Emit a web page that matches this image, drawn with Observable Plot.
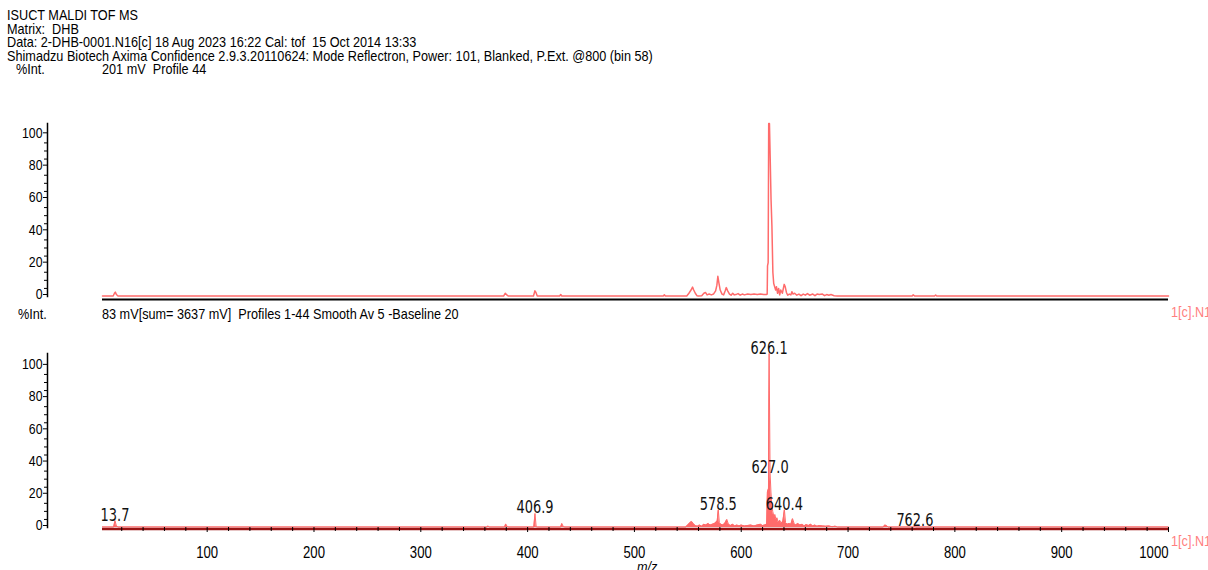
<!DOCTYPE html>
<html><head><meta charset="utf-8">
<script src="https://cdn.jsdelivr.net/npm/d3@7"></script>
<script src="https://cdn.jsdelivr.net/npm/@observablehq/plot@0.6"></script>
<style>
html,body{margin:0;padding:0;background:#fff;overflow:hidden;width:1208px;height:570px}
#root{position:relative;width:1208px;height:570px;overflow:hidden;background:#fff}
.t{position:absolute;font-family:"Liberation Sans",Arial,sans-serif;font-size:15px;line-height:13px;white-space:pre;transform:scaleX(0.845);transform-origin:0 0;color:#000}
.pk{color:#ff7f7f}
.it{font-style:italic}
</style></head>
<body><div id="root"></div>
<script>
// ---------- data ----------
const headerLines = [
  "ISUCT MALDI TOF MS",
  "Matrix:  DHB",
  "Data: 2-DHB-0001.N16[c] 18 Aug 2023 16:22 Cal: tof  15 Oct 2014 13:33",
  "Shimadzu Biotech Axima Confidence 2.9.3.20110624: Mode Reflectron, Power: 101, Blanked, P.Ext. @800 (bin 58)"
];
const yLabelText = "%Int.";
const profileInfo = "201 mV  Profile 44";
const sumInfo = "83 mV[sum= 3637 mV]  Profiles 1-44 Smooth Av 5 -Baseline 20";
const fileTag = "1[c].N16";
const xTitle = "m/z";

const xDomain = [2, 1000];
const xMajorTicks = [100, 200, 300, 400, 500, 600, 700, 800, 900];
const xLastTick = [1000];
const xMinorTicks = [20,40,60,80,120,140,160,180,220,240,260,280,320,340,360,380,420,440,460,480,520,540,560,580,620,640,660,680,720,740,760,780,820,840,860,880,920,940,960,980];
const yMajorTicks = [0, 20, 40, 60, 80, 100];
const yMinorTicks = [5,10,15,25,30,35,45,50,55,65,70,75,85,90,95];

// top panel: single profile
const profileMz  = [2,12,13.2,14,15,16.5,377.5,379,380.5,382,405.5,406.8,407.8,409,430,431,432,527,528,529,549,551,553,554.4,555.5,557,558.5,560,563,565,566.5,568,570,572,574,576,577.2,578.1,579.2,580.3,582,583.5,585,586,587.3,589,590.5,592,593.5,595,597,599,601,603,606,609,612,615,618,621,623.5,624.3,624.6,625.2,625.7,626.4,627.1,627.9,628.7,629.6,630.4,631.3,632.2,633,634,635,636,637,638.5,640.2,641.2,642.3,643.5,645,646.5,647.4,648.5,650,652,654,656,658,660,662,664,667,669,671,673,676,678,680,682,684,687,690,760,761,762.5,781,782,783,1000];
const profileInt = [0.3,0.3,2,2.7,1.2,0.3,0.3,2,1,0.3,0.3,3.5,2.5,0.3,0.3,1.2,0.3,0.3,1,0.3,0.3,2,4,5.8,4,2,0.5,0.3,0.5,2,2.5,1,1.5,1,1.5,3.5,7,12.5,8,4,1.5,1,3.5,5.5,3.5,1.5,0.8,2,1,1.2,1.8,0.8,1.5,1,1.5,1.2,1.5,1.2,1.5,1.2,1.2,1.5,19,21,107,107,86,60,44,15,8,6,4,6,2,5,1,4,2,7.5,6,2.5,0.8,1.5,1,3,1.5,2,0.8,1.5,0.5,1.5,0.8,1.8,0.8,1.5,0.5,1.5,1.2,1.5,0.5,1.2,0.8,1.2,0.5,0.3,0.3,1,0.3,0.3,0.9,0.3,0.3];

// bottom panel: summed, smoothed spectrum
const sumMz  = [2,12.5,13.7,15,16.5,362,363,364,378.5,379.5,381,382.5,405.8,406.9,408,409,431,432,433.5,435,548,550,552,553.5,555,557,559,561,563,565,567,569,571,573,575,577.5,578.5,579.5,581,583,585,586.5,588,590,592,594,596,598,600,603,606,609,612,615,618,620,622,623.8,624.5,625.5,626.1,627.0,627.8,628.6,629.5,630.5,631.5,632.5,633.5,634.5,636,637.5,639,640.4,641.5,643,645,646.5,648,649.5,651,653,655,657,659,661,663,665,667,669,671,673,676,679,682,685,688,690,733,734.5,736,737.5,761.8,762.6,763.4,1000];
const sumInt = [0.3,0.3,4.3,1,0.3,0.3,1,0.3,0.3,2.2,0.5,0.3,0.3,8.7,0.5,0.3,0.3,2.5,0.5,0.3,0.3,1.5,3,3.8,2.5,1.2,0.8,1.5,0.8,2,1.5,2.5,1.5,2,2.5,4,11,3,2,1.5,3,5,2,1.2,2,1,1.5,1,1.5,1,1.2,1.5,1,1.5,2,1.2,1.5,2,22,24,108,34,22,14,10,7,8,5,6,3,4.5,2.5,4,11,3,2,2.5,2,5.5,2.5,1.5,2.5,1.5,2,1,1.8,1.2,2,1,1.5,0.8,1.2,1,0.8,1,0.5,0.8,0.3,0.3,1.5,1.2,0.3,0.3,0.8,0.3,0.3];

// labelled peaks
const peakMz    = [13.7, 406.9, 578.5, 626.1, 627.0, 640.4, 762.6];
const peakInt   = [4.3, 8.7, 11, 108, 34, 11, 0.8];
const peakLabel = ["13.7", "406.9", "578.5", "626.1", "627.0", "640.4", "762.6"];

// ---------- styles ----------
const specColor = "#ff6b6b";
const baseRed = "#9a1414";
const axisFont = "Liberation Sans, Arial, sans-serif";
const peakFont = "DejaVu Sans";

const root = document.getElementById("root");
function addText(str, left, top, cls) {
  const d = document.createElement("div");
  d.className = "t" + (cls ? " " + cls : "");
  d.textContent = str;
  d.style.left = left + "px";
  d.style.top = top + "px";
  root.appendChild(d);
  return d;
}
const headerTops = [8, 21.5, 35, 48.5];
headerLines.forEach((s, i) => addText(s, 7, headerTops[i]));
addText(yLabelText, 16, 62);
addText(profileInfo, 102, 62);
addText(yLabelText, 18, 307);
addText(sumInfo, 102, 307);
addText(fileTag, 1171, 305, "pk");
addText(fileTag, 1171, 534, "pk");
addText(xTitle, 637, 560, "it");

const profile = profileMz.map((mz, i) => ({mz, int: profileInt[i]}));
const summed = sumMz.map((mz, i) => ({mz, int: sumInt[i]}));
const peaks = peakMz.map((mz, i) => ({mz, int: peakInt[i], label: peakLabel[i]}));

const common = {
  width: 1208, marginLeft: 47, marginRight: 40,
  style: {fontFamily: axisFont, fontSize: "15px", color: "#000", background: "transparent", overflow: "visible"}
};

function yAxes() {
  return [
    Plot.axisY({anchor: "left", ticks: yMinorTicks, tickSize: 3, tickFormat: () => "", label: null}),
    Plot.axisY({anchor: "left", ticks: yMajorTicks, tickSize: 4, tickPadding: 1, tickFormat: d => String(d), fontSize: 15, dy: -2, label: null}),
    Plot.frame({anchor: "left", strokeWidth: 1.5})
  ];
}

const topPlot = Plot.plot({
  ...common, height: 225, marginTop: 43, marginBottom: 9,
  x: {domain: xDomain, range: [102, 1168], axis: null},
  y: {domain: [0, 107], axis: null},
  marks: [
    Plot.ruleY([0], {x1: xDomain[0], x2: xDomain[1], stroke: "#000", strokeWidth: 2, dy: 3}),
    Plot.line(profile, {x: "mz", y: "int", stroke: specColor, strokeWidth: 1.5}),
    ...yAxes()
  ]
});

const bottomPlot = Plot.plot({
  ...common, height: 240, marginTop: 23, marginBottom: 43,
  x: {domain: xDomain, range: [102, 1168], axis: null},
  y: {domain: [0, 108], axis: null},
  marks: [
    Plot.areaY(summed, {x: "mz", y: "int", fill: specColor}),
    Plot.line(summed, {x: "mz", y: "int", stroke: specColor, strokeWidth: 1}),
    Plot.ruleY([0], {x1: xDomain[0], x2: xDomain[1], stroke: baseRed, strokeWidth: 2.5, dy: 1.5}),
    Plot.axisX({anchor: "bottom", ticks: xMinorTicks, tickSize: 4, tickFormat: () => "", label: null}),
    Plot.axisX({anchor: "bottom", ticks: xMajorTicks, tickSize: 5, tickPadding: 14, fontSize: 16, tickFormat: d => String(d), label: null}),
    Plot.axisX({anchor: "bottom", ticks: xLastTick, tickSize: 5, tickPadding: 14, fontSize: 16, textAnchor: "end", tickFormat: d => String(d), label: null}),
    ...yAxes(),
    Plot.text(peaks, {x: "mz", y: "int", text: "label", lineAnchor: "bottom", dy: 0, fontSize: 18, fontFamily: peakFont, fill: "#111"})
  ]
});

[[topPlot, 80], [bottomPlot, 330]].forEach(([svg, top]) => {
  svg.style.position = "absolute";
  svg.style.left = "0px";
  svg.style.top = top + "px";
  root.appendChild(svg);
});

// condense the glyphs horizontally, like the narrow instrument font
function condense(svg) {
  svg.querySelectorAll("text").forEach(t => {
    const fam = (t.closest("[font-family]") || svg).getAttribute("font-family") || "";
    const f = fam.includes("DejaVu") ? 0.72 : 0.82;
    const w = t.getComputedTextLength();
    if (w > 0) {
      t.setAttribute("textLength", (w * f).toFixed(2));
      t.setAttribute("lengthAdjust", "spacingAndGlyphs");
    }
  });
}
condense(topPlot);
condense(bottomPlot);
</script></body></html>
